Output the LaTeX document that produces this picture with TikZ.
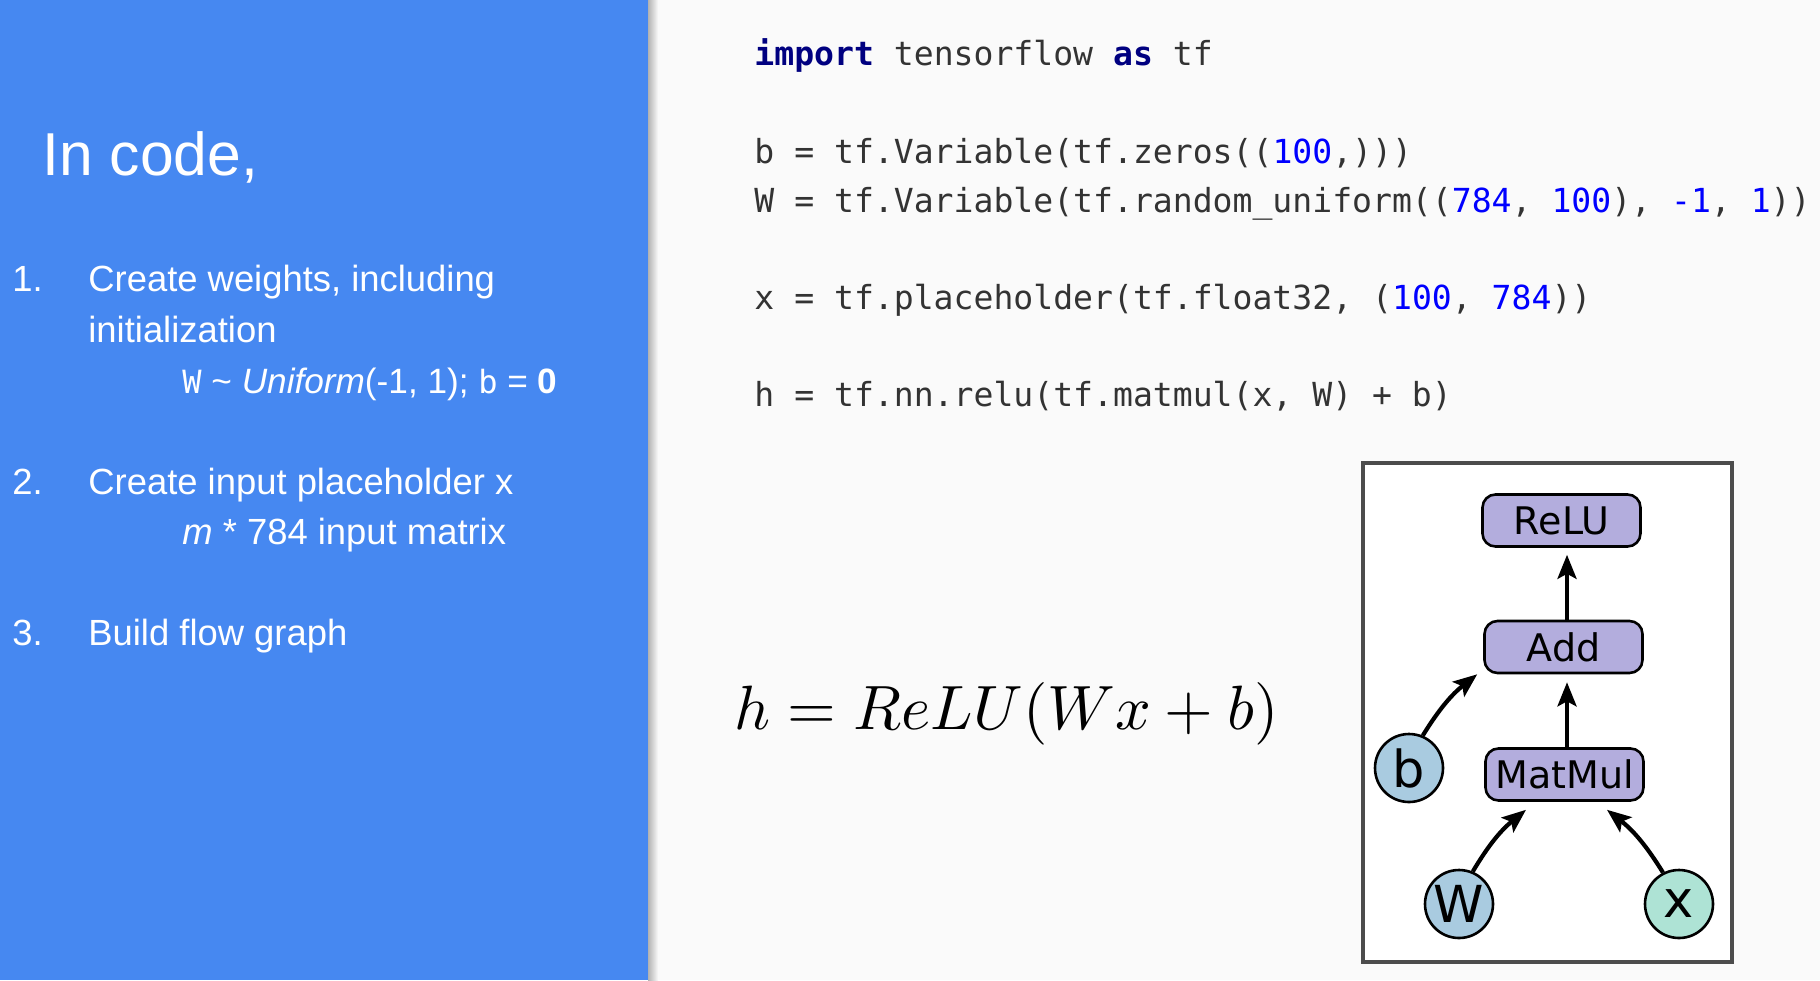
\documentclass[tikz,border=0pt]{standalone}
\usepackage[no-math]{fontspec}
\usepackage{amsmath}
\usetikzlibrary{arrows.meta}
\newfontfamily\slidefont{Liberation Sans}
\newfontfamily\codefont{DejaVu Sans Mono}
\newfontfamily\opfont{DejaVu Sans}
\definecolor{panelblue}{HTML}{4688F1}
\definecolor{pagegray}{HTML}{FAFAFA}
\definecolor{codegray}{HTML}{333333}
\definecolor{opfill}{HTML}{B3ADDD}
\definecolor{varfill}{HTML}{A9CBE0}
\definecolor{inputfill}{HTML}{AEE3D5}
\newcommand{\kw}[1]{\textcolor[HTML]{000080}{\textbf{#1}}}
\newcommand{\nm}[1]{\textcolor[HTML]{0000FF}{#1}}
\tikzset{
  slidetext/.style={anchor=base west,inner sep=0pt,text=white,font=\slidefont\fontsize{18.2}{21}\selectfont},
  codeline/.style={anchor=base west,inner sep=0pt,text=codegray,font=\codefont\fontsize{16.55}{20}\selectfont},
  opnode/.style={shape=rectangle,rounded corners=6.5pt,draw=black,line width=1.3pt,fill=opfill,
    minimum width=79pt,minimum height=26pt,inner sep=0pt,font=\opfont\fontsize{19}{21}\selectfont},
  varnode/.style={shape=circle,draw=black,line width=1.3pt,fill=varfill,
    minimum size=34pt,inner sep=0pt,font=\opfont\fontsize{25.5}{27}\selectfont},
  flow/.style={line width=2.1pt,-{Stealth[length=12pt,width=9.5pt,inset=2.5pt]}}
}
\begin{document}
\begin{tikzpicture}[x=0.5pt,y=-0.5pt]
    \useasboundingbox (0,0) rectangle (1820,980);
    \fill[pagegray] (0,0) rectangle (1820,980);
    \shade[left color=black!30,right color=pagegray] (648,0) rectangle (658,980);
    \fill[panelblue] (0,0) rectangle (648,980);

    % left panel
    \node[slidetext,font=\slidefont\fontsize{30.3}{34}\selectfont] (title) at (42,175) {In code,};
    \node[slidetext] (num1) at (12,291) {1.};
    \node[slidetext] (item1) at (88,291) {Create weights, including};
    \node[slidetext] (item1b) at (88,342) {initialization};
    \node[slidetext,font=\slidefont\fontsize{17.6}{21}\selectfont] (item1c) at (182,393) {{\codefont\fontsize{16}{20}\selectfont W} \textasciitilde{} \textit{Uniform}(-1, 1); {\codefont\fontsize{16}{20}\selectfont b} = \textbf{0}};
    \node[slidetext] (num2) at (12,494) {2.};
    \node[slidetext] (item2) at (88,494) {Create input placeholder x};
    \node[slidetext] (item2b) at (182,544) {\textit{m} * 784 input matrix};
    \node[slidetext] (num3) at (12,645) {3.};
    \node[slidetext] (item3) at (88,645) {Build flow graph};

    % code
    \node[codeline] (code1) at (754,65) {\kw{import} tensorflow \kw{as} tf};
    \node[codeline] (code2) at (754,163) {b = tf.Variable(tf.zeros((\nm{100},)))};
    \node[codeline] (code3) at (754,212) {W = tf.Variable(tf.random\_uniform((\nm{784}, \nm{100}), \nm{-1}, \nm{1}))};
    \node[codeline] (code4) at (754,309) {x = tf.placeholder(tf.float32, (\nm{100}, \nm{784}))};
    \node[codeline] (code5) at (754,406) {h = tf.nn.relu(tf.matmul(x, W) + b)};

    % formula
    \node[anchor=base west,inner sep=0pt,scale=3.13] (eqn) at (733,729) {$h = ReLU(Wx + b)$};

    % graph
    \draw[draw=black!70,line width=1.8pt,fill=white] (1363,463) rectangle (1732,962);
    \node[opnode] (relu) at (1561.5,520.5) {ReLU};
    \node[opnode] (add) at (1563.5,647) {Add};
    \node[opnode] (matmul) at (1564.5,774.5) {MatMul};
    \node[varnode] (b) at (1409,768) {b};
    \node[varnode] (W) at (1459,904) {W};
    \node[varnode,fill=inputfill] (x) at (1679,904) {x};

    \draw[flow] ([xshift=1.75pt]add.north) -- ([xshift=2.75pt,yshift=-3.5pt]relu.south);
    \draw[flow] ([xshift=1.25pt]matmul.north) -- ([xshift=1.75pt,yshift=-4pt]add.south);
    \draw[flow] (b.67) to[bend left=10] ([xshift=-3pt]add.south west);
    \draw[flow] (W.67) to[bend left=10] ([xshift=-19.25pt,yshift=-4pt]matmul.south);
    \draw[flow] (x.117) to[bend right=10] ([xshift=21.25pt,yshift=-4pt]matmul.south);
\end{tikzpicture}
\end{document}
